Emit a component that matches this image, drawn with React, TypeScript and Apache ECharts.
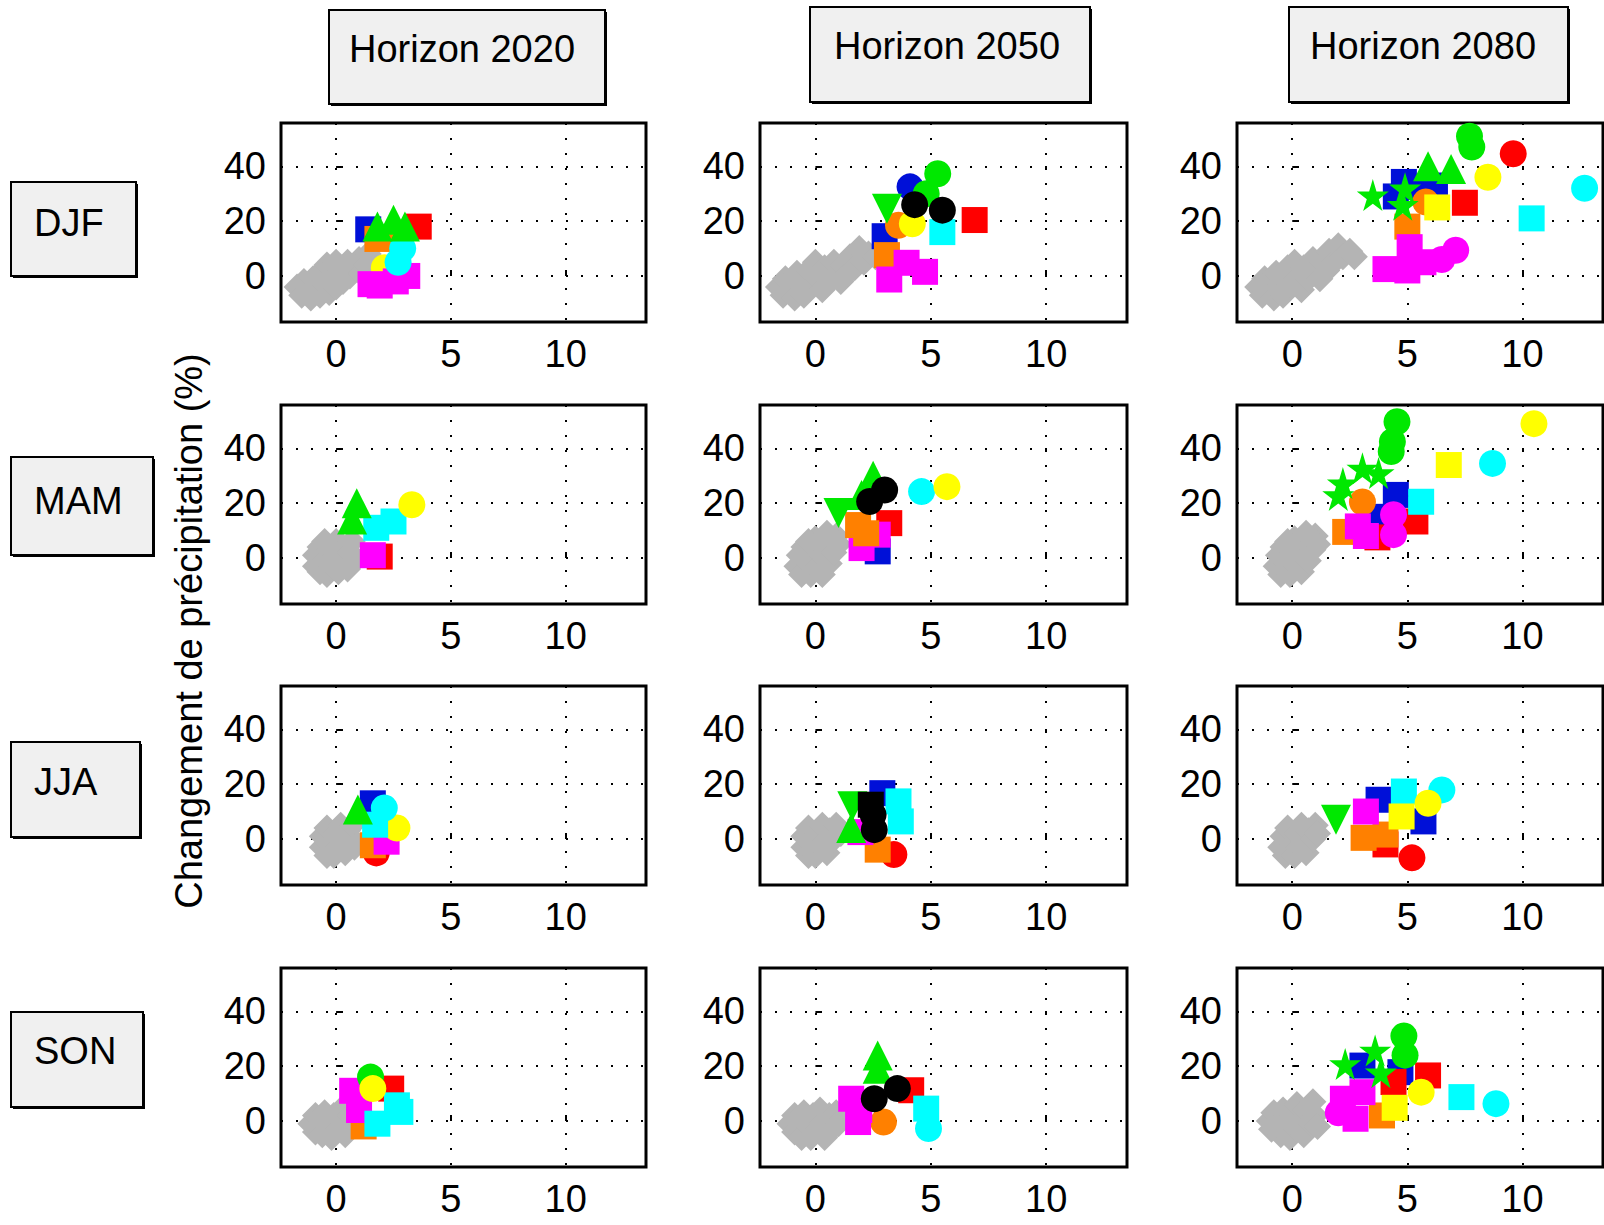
import React, { useEffect, useRef } from 'react';
import * as echarts from 'echarts';

// Coloured marks: [x (°C), y (%), colour key, marker]  marker: s square, o circle, ^ up-triangle, v down-triangle, p star
type Pt = [number, number, string, string];
type XY = [number, number];

const SEASONS = ['DJF', 'MAM', 'JJA', 'SON'];
const HORIZONS = ['Horizon 2020', 'Horizon 2050', 'Horizon 2080'];
const X_TICKS = [0, 5, 10];
const Y_TICKS = [0, 20, 40];
const X_RANGE = [-2.4, 13.5];
const Y_RANGE = [-16.8, 55.8];
const Y_TITLE = 'Changement de précipitation (%)';

// grey diamonds (drawn first, underneath)
const DJF_2020_GRAY: XY[] = [
  [-1.7, -4], [-1.5, -7], [-1.4, -2], [-1.2, -5], [-1.1, -8], [-1.0, -1], [-0.9, -4], [-0.7, -7], [-0.7, 1], [-0.5, -3],
  [-0.4, 4], [-0.3, -6], [-0.2, 0], [0.0, -4], [0.0, 5], [0.2, 2], [0.3, -2], [0.5, 5], [0.6, 0], [0.8, 3],
  [1.0, 6], [1.1, 1], [1.3, 4], [1.4, 8], [1.6, 2],
];
const DJF_2050_GRAY: XY[] = [
  [-1.6, -4], [-1.4, -7], [-1.3, -1], [-1.1, -5], [-0.9, -8], [-0.8, 1], [-0.6, -3], [-0.5, -7], [-0.3, 2], [-0.2, -4],
  [0.0, 5], [0.1, -1], [0.3, -5], [0.4, 3], [0.6, -2], [0.8, 5], [0.9, 0], [1.1, -2], [1.2, 4], [1.4, 1],
  [1.5, 7], [1.7, 3], [1.9, 10], [2.1, 5], [2.3, 8], [2.6, 7],
];
const DJF_2080_GRAY: XY[] = [
  [-1.5, -4], [-1.3, -7], [-1.2, -1], [-1.0, -5], [-0.8, -8], [-0.7, 1], [-0.5, -3], [-0.4, -7], [-0.2, 3], [-0.1, -3],
  [0.1, 5], [0.2, -1], [0.4, -5], [0.5, 3], [0.7, -1], [0.9, 6], [1.0, 1], [1.2, -1], [1.3, 5], [1.5, 2],
  [1.6, 9], [1.8, 5], [2.0, 11], [2.2, 7], [2.5, 9], [2.7, 7],
];
const MAM_2020_GRAY: XY[] = [
  [-0.9, -3], [-0.9, 1], [-0.7, -5], [-0.7, 4], [-0.5, -1], [-0.4, -6], [-0.3, 3], [-0.2, -3], [0.0, 1], [0.0, 6],
  [0.1, -5], [0.3, -1], [0.3, 4], [0.5, -4], [0.6, 2], [0.7, 6], [0.8, -1], [-0.5, 6],
];
const MAM_2050_GRAY: XY[] = [
  [-0.8, -3], [-0.7, 1], [-0.6, -6], [-0.5, 4], [-0.3, -2], [-0.2, -6], [-0.1, 2], [0.0, 7], [0.1, -3], [0.3, 1],
  [0.3, -6], [0.5, 5], [0.6, -2], [0.8, 2], [0.9, 8], [1.0, 5], [-0.3, 6], [0.5, 9],
];
const MAM_2080_GRAY: XY[] = [
  [-0.7, -3], [-0.6, 1], [-0.5, -6], [-0.4, 4], [-0.2, -2], [-0.1, -6], [0.0, 2], [0.1, 7], [0.2, -3], [0.4, 1],
  [0.4, -5], [0.6, 5], [0.7, -1], [0.9, 3], [1.0, 8], [1.1, 5], [-0.2, 6], [0.6, 9],
];
const JJA_2020_GRAY: XY[] = [
  [-0.6, -3], [-0.6, 1], [-0.4, -6], [-0.4, 4], [-0.2, -2], [-0.1, -6], [0.0, 2], [0.1, -3], [0.2, 5], [0.3, -1],
  [0.4, -5], [0.5, 3], [0.7, 0], [0.7, 5], [0.8, -3],
];
const JJA_2050_GRAY: XY[] = [
  [-0.5, -3], [-0.5, 1], [-0.3, -6], [-0.3, 4], [-0.1, -2], [0.0, -6], [0.1, 2], [0.2, -3], [0.3, 5], [0.4, -1],
  [0.5, -5], [0.6, 3], [0.8, 0], [0.9, 5], [1.1, 2],
];
const JJA_2080_GRAY: XY[] = [
  [-0.5, -3], [-0.4, 1], [-0.3, -6], [-0.2, 4], [0.0, -2], [0.1, -6], [0.2, 2], [0.3, -3], [0.4, 5], [0.5, -1],
  [0.6, -5], [0.7, 3], [0.9, 0], [1.0, 5], [1.1, 2],
];
const SON_2020_GRAY: XY[] = [
  [-1.1, -1], [-0.9, -4], [-0.9, 2], [-0.7, -1], [-0.6, -5], [-0.5, 3], [-0.3, -2], [-0.2, -6], [-0.1, 2], [0.1, -3],
  [0.2, 4], [0.3, 0], [0.4, -5], [0.6, 2], [0.7, -2], [0.9, 4], [1.0, 0],
];
const SON_2050_GRAY: XY[] = [
  [-1.1, -1], [-0.9, -4], [-0.9, 2], [-0.7, -1], [-0.6, -6], [-0.5, 3], [-0.3, -2], [-0.2, -6], [-0.1, 2], [0.1, -3],
  [0.2, 4], [0.3, -1], [0.4, -6], [0.6, 2], [0.7, -3], [0.9, 3], [1.0, -1], [1.2, 1],
];
const SON_2080_GRAY: XY[] = [
  [-1.0, 0], [-0.9, -3], [-0.8, 3], [-0.6, -1], [-0.5, -5], [-0.4, 4], [-0.2, -2], [-0.1, -6], [0.0, 2], [0.2, -3],
  [0.2, 6], [0.4, 0], [0.5, -5], [0.6, 4], [0.8, -1], [0.9, 7], [1.0, 2], [1.1, -2],
];

// coloured models (listed in drawing order)
const DJF_2020: Pt[] = [
  [2.1, 3, 'yellow', 'o'],
  [3.6, 18, 'red', 's'], [1.4, 17, 'blue', 's'],
  [1.8, 13.5, 'orange', 's'], [2.4, 14, 'orange', 's'],
  [1.5, -3, 'magenta', 's'], [1.9, -3.5, 'magenta', 's'], [2.6, -2, 'magenta', 's'], [3.1, 0, 'magenta', 's'],
  [2.9, 10, 'cyan', 'o'], [2.7, 5, 'cyan', 'o'],
  [1.8, 18, 'green', '^'], [2.5, 20.5, 'green', '^'], [3.0, 18, 'green', '^'],
];
const DJF_2050: Pt[] = [
  [3.0, 14.5, 'blue', 's'], [4.1, 32.5, 'blue', 'o'],
  [6.9, 20.4, 'red', 's'],
  [3.1, 7.6, 'orange', 's'], [3.6, 18.5, 'orange', 'o'],
  [3.2, -1.3, 'magenta', 's'], [3.95, 4.8, 'magenta', 's'], [4.75, 1.5, 'magenta', 's'],
  [5.5, 16, 'cyan', 's'], [4.2, 19, 'yellow', 'o'],
  [5.3, 37.3, 'green', 'o'], [4.8, 30, 'green', 'o'], [3.1, 24.5, 'green', 'v'],
  [4.3, 26, 'black', 'o'], [5.5, 24, 'black', 'o'],
];
const DJF_2080: Pt[] = [
  [4.85, 34.3, 'blue', 's'], [4.5, 29, 'blue', 's'], [5.6, 32.5, 'blue', 's'], [6.2, 33, 'blue', 's'],
  [7.5, 26.7, 'red', 's'], [9.6, 44.6, 'red', 'o'],
  [5.0, 18, 'orange', 's'], [5.8, 27, 'orange', 'o'],
  [4.05, 2.5, 'magenta', 's'], [5.0, 2, 'magenta', 's'], [5.1, 10.5, 'magenta', 's'], [5.7, 5, 'magenta', 's'],
  [6.5, 6, 'magenta', 'o'], [7.1, 9.4, 'magenta', 'o'],
  [10.4, 21, 'cyan', 's'], [12.7, 32, 'cyan', 'o'],
  [6.3, 25, 'yellow', 's'], [8.5, 36, 'yellow', 'o'],
  [7.7, 51, 'green', 'o'], [7.8, 47, 'green', 'o'], [5.9, 40, 'green', '^'], [6.9, 39, 'green', '^'],
  [3.5, 29.5, 'green', 'p'], [4.9, 32, 'green', 'p'], [4.8, 26, 'green', 'p'],
];
const MAM_2020: Pt[] = [
  [1.9, 0.5, 'red', 's'], [1.6, 1, 'magenta', 's'],
  [1.75, 11, 'cyan', 's'], [2.5, 13.3, 'cyan', 's'],
  [3.3, 19.4, 'yellow', 'o'],
  [0.9, 20, 'green', '^'], [0.7, 14, 'green', '^'],
];
const MAM_2050: Pt[] = [
  [2.7, 2.4, 'blue', 's'], [3.2, 12.7, 'red', 's'],
  [2.7, 8.5, 'magenta', 's'], [2.0, 3.6, 'magenta', 's'],
  [1.85, 12, 'orange', 's'], [2.2, 9, 'orange', 's'],
  [4.6, 24.2, 'cyan', 'o'], [5.7, 26, 'yellow', 'o'],
  [2.5, 30, 'green', '^'], [2.0, 23, 'green', '^'], [1.0, 16.4, 'green', 'v'],
  [2.35, 20.6, 'black', 'o'], [3.0, 24.8, 'black', 'o'],
];
const MAM_2080: Pt[] = [
  [4.5, 23, 'blue', 's'], [3.5, 15, 'blue', 's'],
  [3.7, 7.5, 'red', 's'], [5.35, 13.3, 'red', 's'],
  [2.3, 9.5, 'orange', 's'], [3.05, 20.4, 'orange', 'o'],
  [2.85, 11.5, 'magenta', 's'], [3.2, 8, 'magenta', 's'], [4.4, 15.8, 'magenta', 'o'], [4.4, 8.5, 'magenta', 'o'],
  [5.6, 20.5, 'cyan', 's'], [8.7, 34.5, 'cyan', 'o'],
  [6.8, 33.9, 'yellow', 's'], [10.5, 49, 'yellow', 'o'],
  [3.05, 32.7, 'green', 'p'], [3.75, 31, 'green', 'p'], [2.2, 27.3, 'green', 'p'], [2.0, 23, 'green', 'p'],
  [4.55, 49.7, 'green', 'o'], [4.35, 42.4, 'green', 'o'], [4.3, 38.8, 'green', 'o'],
];
const JJA_2020: Pt[] = [
  [1.6, 13, 'blue', 's'], [1.75, -5.1, 'red', 'o'], [1.6, -2.3, 'orange', 's'], [2.2, -1, 'magenta', 's'],
  [2.65, 4, 'yellow', 'o'],
  [2.1, 11.3, 'cyan', 'o'], [1.7, 5.2, 'cyan', 's'],
  [0.95, 10.7, 'green', '^'],
];
const JJA_2050: Pt[] = [
  [2.9, 16.7, 'blue', 's'], [3.4, -5.7, 'red', 'o'], [2.7, -3.9, 'orange', 's'], [1.95, 2.5, 'magenta', 's'],
  [3.6, 13.7, 'cyan', 's'], [3.7, 6.4, 'cyan', 's'],
  [1.6, 11.9, 'green', 'v'], [1.55, 4, 'green', '^'],
  [2.5, 8.8, 'black', 'o'], [2.55, 3.4, 'black', 'o'], [2.4, 12.5, 'black', 's'],
];
const JJA_2080: Pt[] = [
  [3.75, 14.3, 'blue', 's'], [5.7, 6.4, 'blue', 's'],
  [4.05, -2, 'red', 's'], [5.2, -6.9, 'red', 'o'],
  [3.1, 0.4, 'orange', 's'], [4.05, 1.6, 'orange', 's'],
  [3.2, 10, 'magenta', 's'],
  [4.85, 17.3, 'cyan', 's'], [6.5, 17.9, 'cyan', 'o'],
  [4.75, 8.2, 'yellow', 's'], [5.9, 13, 'yellow', 'o'],
  [1.9, 7, 'green', 'v'],
];
const SON_2020: Pt[] = [
  [2.4, 11.8, 'red', 's'], [1.2, -2, 'orange', 's'],
  [0.7, 11, 'magenta', 's'], [1.0, 4, 'magenta', 's'],
  [2.65, 5.7, 'cyan', 's'], [1.8, -1, 'cyan', 's'], [2.8, 3.3, 'cyan', 's'],
  [1.5, 16, 'green', 'o'], [1.6, 11.8, 'yellow', 'o'],
];
const SON_2050: Pt[] = [
  [4.15, 11.2, 'red', 's'], [2.95, -0.4, 'orange', 'o'],
  [1.55, 8.1, 'magenta', 's'], [1.85, -0.4, 'magenta', 's'], [1.9, 4, 'magenta', 's'],
  [4.8, 4.5, 'cyan', 's'], [4.9, -2.8, 'cyan', 'o'],
  [2.7, 19, 'green', '^'], [2.7, 23.9, 'green', '^'],
  [2.55, 8.1, 'black', 'o'], [3.55, 11.8, 'black', 'o'],
];
const SON_2080: Pt[] = [
  [3.05, 20.2, 'blue', 's'], [4.7, 17.8, 'blue', 's'],
  [4.4, 14.2, 'red', 's'], [5.9, 16.6, 'red', 's'],
  [3.9, 2, 'orange', 's'],
  [2.2, 8.1, 'magenta', 's'], [2.75, 0.8, 'magenta', 's'], [3.05, 10.5, 'magenta', 's'], [2.0, 3, 'magenta', 'o'],
  [7.35, 8.7, 'cyan', 's'], [8.85, 6.3, 'cyan', 'o'],
  [4.45, 4.8, 'yellow', 's'], [5.6, 10.5, 'yellow', 'o'],
  [2.3, 20.8, 'green', 'p'], [3.6, 25.7, 'green', 'p'], [3.85, 17.8, 'green', 'p'],
  [4.85, 31, 'green', 'o'], [4.9, 24, 'green', 'o'],
];

const PANEL_GRAY: XY[][][] = [
  [DJF_2020_GRAY, DJF_2050_GRAY, DJF_2080_GRAY],
  [MAM_2020_GRAY, MAM_2050_GRAY, MAM_2080_GRAY],
  [JJA_2020_GRAY, JJA_2050_GRAY, JJA_2080_GRAY],
  [SON_2020_GRAY, SON_2050_GRAY, SON_2080_GRAY],
];
const PANELS: Pt[][][] = [
  [DJF_2020, DJF_2050, DJF_2080],
  [MAM_2020, MAM_2050, MAM_2080],
  [JJA_2020, JJA_2050, JJA_2080],
  [SON_2020, SON_2050, SON_2080],
];

const COLORS: Record<string, string> = {
  gray: '#b4b4b4', blue: '#0010d8', red: '#ff0000', orange: '#ff8000', magenta: '#ff00ff',
  cyan: '#00ffff', yellow: '#ffff00', green: '#00e800', black: '#000000',
};
const STAR = 'path://M50,0 L61,35 L98,35 L68,57 L79,91 L50,70 L21,91 L32,57 L2,35 L39,35 Z';
const MARKERS: Record<string, { symbol: string; size: number; rotate: number }> = {
  d: { symbol: 'diamond', size: 27, rotate: 0 },
  s: { symbol: 'rect', size: 26, rotate: 0 },
  o: { symbol: 'circle', size: 27, rotate: 0 },
  '^': { symbol: 'triangle', size: 30, rotate: 0 },
  v: { symbol: 'triangle', size: 30, rotate: 180 },
  p: { symbol: STAR, size: 32, rotate: 0 },
};

const FONT = '"Liberation Sans", Arial, Helvetica, sans-serif';
const GRID_LEFT = [281, 760, 1237];
const GRID_WIDTH = [365, 367, 366];
const GRID_TOP = [123, 405, 686, 968];
const GRID_HEIGHT = 199;

function scatter(idx: number, data: XY[], color: string, mk: string) {
  const m = MARKERS[mk];
  return {
    type: 'scatter', xAxisIndex: idx, yAxisIndex: idx, data,
    symbol: m.symbol, symbolSize: m.size, symbolRotate: m.rotate,
    itemStyle: { color: COLORS[color], opacity: 1 },
    silent: true, clip: true,
  };
}

function buildOption() {
  const grid: any[] = [];
  const xAxis: any[] = [];
  const yAxis: any[] = [];
  const series: any[] = [];
  let idx = 0;
  PANELS.forEach((row, r) => {
    row.forEach((pts, c) => {
      grid.push({
        left: GRID_LEFT[c], top: GRID_TOP[r], width: GRID_WIDTH[c], height: GRID_HEIGHT,
        show: true, borderColor: '#000', borderWidth: 3, backgroundColor: '#fff',
        containLabel: false, outerBoundsMode: 'none',
      });
      const split = { show: true, lineStyle: { color: '#000', width: 2, type: [2, 13] } };
      xAxis.push({
        type: 'value', gridIndex: idx, min: X_RANGE[0], max: X_RANGE[1],
        axisLine: { show: false },
        axisTick: { show: true, inside: true, length: 6, customValues: X_TICKS, lineStyle: { color: '#000', width: 2 } },
        axisLabel: { customValues: X_TICKS, fontSize: 38, color: '#000', fontFamily: FONT, margin: 13 },
        splitLine: split,
      });
      yAxis.push({
        type: 'value', gridIndex: idx, min: Y_RANGE[0], max: Y_RANGE[1],
        axisLine: { show: false },
        axisTick: { show: true, inside: true, length: 6, customValues: Y_TICKS, lineStyle: { color: '#000', width: 2 } },
        axisLabel: { customValues: Y_TICKS, fontSize: 38, color: '#000', fontFamily: FONT, margin: 15 },
        splitLine: split,
      });
      series.push(scatter(idx, PANEL_GRAY[r][c], 'gray', 'd'));
      // group coloured points by colour+marker, in order of first appearance
      const keys: string[] = [];
      pts.forEach((p) => {
        const k = p[2] + '|' + p[3];
        if (keys.indexOf(k) < 0) keys.push(k);
      });
      keys.forEach((k) => {
        const [col, mk] = k.split('|');
        const data = pts.filter((p) => p[2] === col && p[3] === mk).map((p) => [p[0], p[1]] as XY);
        series.push(scatter(idx, data, col, mk));
      });
      idx++;
    });
  });

  const graphic: any[] = [];
  const box = (x: number, y: number, w: number, h: number, label: string, tx: number, ty: number, align: string) => {
    graphic.push({
      type: 'rect', shape: { x, y, width: w, height: h },
      style: { fill: '#f0f0f0', stroke: '#000', lineWidth: 2 }, z: 10,
    });
    graphic.push({
      type: 'polyline', shape: { points: [[x + w + 1, y + 2], [x + w + 1, y + h + 1], [x + 2, y + h + 1]] },
      style: { stroke: '#000', lineWidth: 2, fill: null }, z: 10,
    });
    graphic.push({
      type: 'text', x: tx, y: ty, z: 11,
      style: { text: label, fontSize: 38, fontFamily: FONT, fill: '#000', align, verticalAlign: 'middle' },
    });
  };
  const titleBoxes = [
    [329, 10, 276, 94, 462, 49],
    [810, 7, 280, 95, 947, 46],
    [1289, 7, 279, 95, 1423, 46],
  ];
  titleBoxes.forEach((b, i) => box(b[0], b[1], b[2], b[3], HORIZONS[i], b[4], b[5], 'center'));
  const rowBoxes = [
    [11, 182, 125, 94, 223],
    [11, 457, 142, 98, 501],
    [11, 742, 129, 95, 782],
    [11, 1012, 132, 95, 1051],
  ];
  rowBoxes.forEach((b, i) => box(b[0], b[1], b[2], b[3], SEASONS[i], 34, b[4], 'left'));
  graphic.push({
    type: 'text', x: 189, y: 631, rotation: Math.PI / 2, z: 11,
    style: { text: Y_TITLE, fontSize: 38, fontFamily: FONT, fill: '#000', align: 'center', verticalAlign: 'middle' },
  });

  return {
    animation: false,
    backgroundColor: '#ffffff',
    grid, xAxis, yAxis, series, graphic,
  };
}

export default function App() {
  const ref = useRef<HTMLDivElement>(null);
  useEffect(() => {
    document.body.style.margin = '0';
    const chart = echarts.init(ref.current!, null, { renderer: 'svg' });
    chart.setOption(buildOption() as any);
    return () => chart.dispose();
  }, []);
  return <div ref={ref} style={{ position: 'absolute', left: 0, top: 0, width: 1604, height: 1225 }} />;
}
